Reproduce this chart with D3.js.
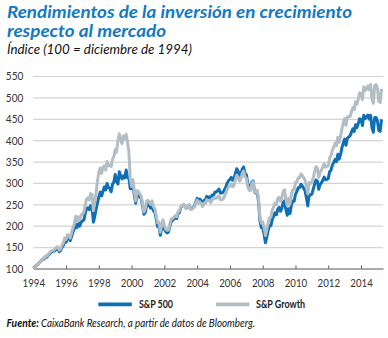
<!DOCTYPE html>
<html>
<head>
<meta charset="utf-8">
<script src="https://cdn.jsdelivr.net/npm/d3@7"></script>
<style>
  body { margin: 0; background: #fff; }
  svg { display: block; font-family: Lato, "Open Sans", sans-serif; }
</style>
</head>
<body>
<svg id="chart" width="388" height="338"></svg>
<script>
// monthly index values, first point = December 1994 (= 100)
const firstYear = 1994;
const sp500 = [100,
  102.4,106.1,109.0,112.1,116.1,118.6,122.4,122.3,127.2,126.6,131.8,134.1,
  138.5,139.4,140.5,142.4,145.7,146.0,139.3,142.0,149.7,153.6,164.8,161.3,
  171.2,172.2,164.9,174.5,184.7,192.7,207.8,195.8,206.3,199.1,208.0,211.3,
  213.4,228.5,239.9,242.1,237.5,246.9,244.0,208.4,221.4,239.2,253.4,267.6,
  278.6,269.6,280.1,290.7,283.5,298.9,289.3,287.5,279.3,296.8,302.4,319.9,
  303.6,297.5,326.3,316.2,309.3,316.7,311.5,330.5,312.8,311.2,286.3,287.5,
  297.4,270.0,252.6,272.1,273.4,266.6,263.7,246.8,226.7,230.8,248.1,250.0,
  246.1,241.0,249.8,234.5,232.4,215.5,198.5,199.5,177.5,192.9,203.9,191.6,
  186.3,183.2,184.7,199.6,209.8,212.2,215.6,219.5,216.9,228.8,230.4,242.1,
  246.3,249.3,245.2,241.1,244.0,248.4,239.9,240.4,242.7,246.1,255.6,263.9,
  257.2,262.1,257.1,251.9,259.4,259.4,268.7,265.7,267.6,262.8,272.1,271.8,
  278.7,278.8,281.9,285.4,276.5,276.6,278.0,283.9,290.9,300.0,305.0,308.8,
  313.2,306.3,309.4,322.8,333.3,327.3,316.9,320.9,332.4,337.4,322.5,319.7,
  300.2,289.7,288.0,301.7,304.9,278.7,276.0,279.3,254.0,210.9,195.1,196.7,
  179.8,160.1,173.7,190.0,200.1,200.2,215.0,222.2,230.2,225.6,238.6,242.8,
  233.8,240.5,254.6,258.4,237.2,224.4,239.9,228.5,248.5,257.6,257.1,273.8,
  280.0,289.0,288.7,296.9,292.9,287.6,281.4,265.4,246.4,272.9,271.5,273.8,
  285.8,297.4,306.7,304.4,285.3,296.6,300.3,306.3,313.7,307.5,308.4,310.5,
  326.2,329.8,341.7,347.9,355.1,349.7,367.0,355.6,366.1,382.5,393.2,402.5,
  388.1,404.9,407.7,410.2,418.8,426.8,420.4,436.2,429.4,439.4,450.2,448.3,
  434.4,458.2,450.3,454.1,458.9,449.2,458.1,429.4,418.1,452.8,453.0,445.0,
  422.5,420.7,448.5];
const spGrowth = [100,
  102,106,109,112,116,119,124,124,129,129,134,137,
  141,142,143,146,150,150,143,146,155,160,171,168,
  179,178,171,183,195,204,222,209,221,214,224,228,
  231,248,262,265,260,275,273,235,254,278,305,325,
  335,322,336,340,330,350,340,342,338,355,362,378,
  372,400,415,400,392,410,402,414,395,372,310,292,
  308,280,258,282,280,274,270,252,232,240,258,259,
  255,250,258,244,240,224,207,208,185,203,214,200,
  192,189,190,205,215,217,220,224,221,233,234,245,
  247,250,245,241,244,248,238,238,241,244,252,260,
  252,256,251,245,253,252,261,258,259,254,263,262,
  265,264,267,270,261,261,262,269,276,285,290,293,
  298,291,294,308,318,313,304,309,322,328,314,311,
  292,283,282,298,303,279,278,283,260,220,206,209,
  195,177,191,208,219,220,237,244,253,249,263,267,
  257,265,280,284,261,247,264,251,274,284,284,301,
  303,312,312,321,317,312,306,292,274,301,299,301,
  312,326,338,335,313,325,330,337,345,337,339,340,
  359,363,377,384,393,387,407,395,408,427,440,451,
  435,455,455,455,467,476,471,490,484,497,511,508,
  495,525,516,519,527,518,530,497,486,528,530,522,
  491,488,520];
const yearTicks = [1994,1996,1998,2000,2002,2004,2006,2008,2010,2012,2014];
const valueTicks = [100,150,200,250,300,350,400,450,500,550];
const seriesNames = ['S&P 500', 'S&P Growth'];

const blue = '#0f6fb6';
const grey = '#b3bec4';

const svg = d3.select('#chart');
const plotL = 33.3, plotR = 383, plotT = 76, plotB = 268.5;

const x = d3.scaleLinear().domain([1994, 2015.34]).range([plotL, plotR]);
const y = d3.scaleLinear().domain([100, 550]).range([plotB, plotT]);

// titles
svg.append('text').attr('x', 7).attr('y', 17.5)
  .attr('textLength', 345).attr('lengthAdjust', 'spacingAndGlyphs')
  .style('font-size', '17px').style('font-weight', 'bold').style('font-style', 'italic')
  .attr('fill', '#1479c1').text('Rendimientos de la inversión en crecimiento');
svg.append('text').attr('x', 7).attr('y', 36.8)
  .attr('textLength', 159).attr('lengthAdjust', 'spacingAndGlyphs')
  .style('font-size', '17px').style('font-weight', 'bold').style('font-style', 'italic')
  .attr('fill', '#1479c1').text('respecto al mercado');
svg.append('text').attr('x', 7).attr('y', 53.5)
  .attr('textLength', 185).attr('lengthAdjust', 'spacingAndGlyphs')
  .style('font-size', '13px').style('font-style', 'italic')
  .attr('fill', '#111').text('Índice (100 = diciembre de 1994)');

// gridlines + y labels
const yAxis = d3.axisLeft(y).tickValues(valueTicks).tickSize(-(plotR - plotL)).tickPadding(10);
const gy = svg.append('g').attr('transform', `translate(${plotL},0)`).call(yAxis);
gy.select('.domain').remove();
gy.selectAll('.tick line').attr('stroke', '#d3d3d3').attr('stroke-width', 1.2)
  .filter(d => d === 100).remove();
gy.selectAll('.tick text').attr('fill', '#333').style('font-size', '12px')
  .style('font-family', 'Lato, sans-serif')
  .attr('textLength', 17.5).attr('lengthAdjust', 'spacingAndGlyphs');

// x axis
const xAxis = d3.axisBottom(x).tickValues(yearTicks).tickFormat(d3.format('d'))
  .tickSizeInner(-3).tickSizeOuter(0);
const gx = svg.append('g').attr('transform', `translate(0,${plotB})`).call(xAxis);
gx.select('.domain').attr('stroke', '#555');
gx.selectAll('.tick line').attr('stroke', '#555');
gx.selectAll('.tick text').attr('y', 18).attr('dy', 0).attr('fill', '#333')
  .style('font-size', '12px').style('font-family', 'Lato, sans-serif')
  .attr('textLength', 22.5).attr('lengthAdjust', 'spacingAndGlyphs');

// lines
const line = d3.line()
  .x((d, i) => x(firstYear + i / 12))
  .y(d => y(d));

svg.append('path').datum(sp500).attr('d', line)
  .attr('fill', 'none').attr('stroke', blue).attr('stroke-width', 3)
  .attr('stroke-linejoin', 'round');
svg.append('path').datum(spGrowth).attr('d', line)
  .attr('fill', 'none').attr('stroke', grey).attr('stroke-width', 3)
  .attr('stroke-linejoin', 'round');

// legend
const legend = [
  {name: seriesNames[0], color: blue, x0: 98.3, tx: 139, tw: 34},
  {name: seriesNames[1], color: grey, x0: 216, tx: 256, tw: 49}
];
legend.forEach(l => {
  svg.append('line').attr('x1', l.x0).attr('x2', l.x0 + 33.5)
    .attr('y1', 304.3).attr('y2', 304.3)
    .attr('stroke', l.color).attr('stroke-width', 3.7);
  svg.append('text').attr('x', l.tx).attr('y', 308)
    .attr('textLength', l.tw).attr('lengthAdjust', 'spacingAndGlyphs')
    .style('font-size', '11px').style('font-weight', 'bold')
    .attr('fill', '#222').text(l.name);
});

// source
svg.append('text').attr('x', 6.5).attr('y', 327)
  .attr('textLength', 32.5).attr('lengthAdjust', 'spacingAndGlyphs')
  .style('font-size', '11px').style('font-style', 'italic').style('font-weight', 'bold')
  .attr('fill', '#111').text('Fuente:');
svg.append('text').attr('x', 41).attr('y', 327)
  .attr('textLength', 214).attr('lengthAdjust', 'spacingAndGlyphs')
  .style('font-size', '11px').style('font-style', 'italic')
  .attr('fill', '#111').text('CaixaBank Research, a partir de datos de Bloomberg.');
</script>
</body>
</html>
